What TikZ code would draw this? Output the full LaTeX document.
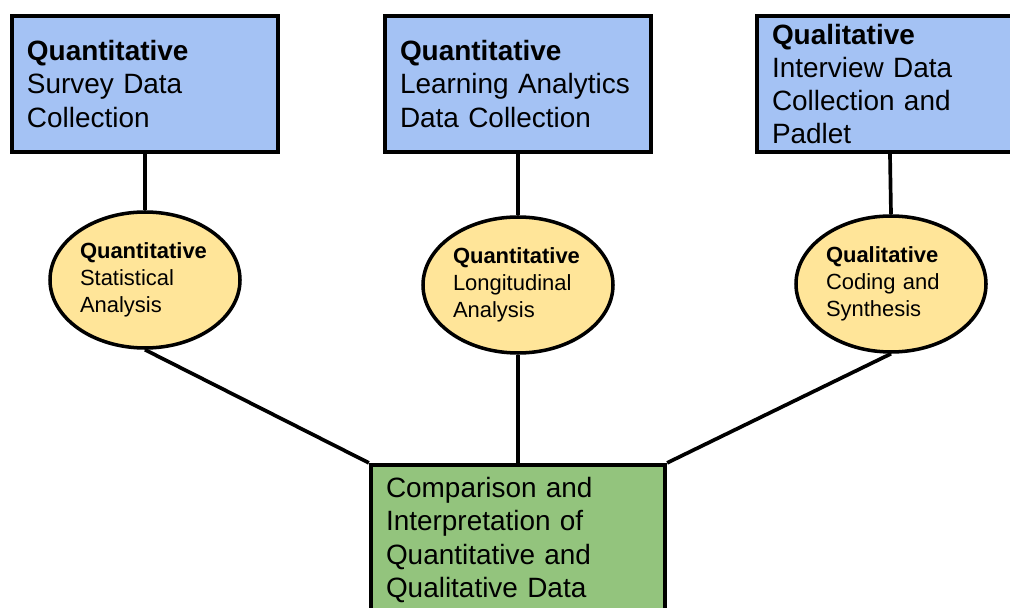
\documentclass[tikz,border=0pt]{standalone}
\usepackage{fontspec}
\setmainfont{Liberation Sans}
\usetikzlibrary{shapes.geometric}

\definecolor{boxblue}{HTML}{A4C2F4}
\definecolor{ovalyellow}{HTML}{FFE599}
\definecolor{resultgreen}{HTML}{93C47D}

\begin{document}
\begin{tikzpicture}[
    collectbox/.style = {draw=black, line width=2.4pt, fill=boxblue, rectangle,
      minimum width=5.32cm, minimum height=2.72cm, inner xsep=0.3cm, inner ysep=0pt,
      text width=4.72cm, align=left, font=\fontsize{15.9}{18.8}\selectfont},
    analysisoval/.style = {draw=black, line width=2pt, fill=ovalyellow, ellipse,
      minimum width=3.8cm, minimum height=2.72cm, inner sep=0pt,
      text width=2.6cm, align=left, font=\fontsize{12.5}{15.3}\selectfont},
    mergebox/.style = {draw=black, line width=2.4pt, fill=resultgreen, rectangle,
      minimum width=5.88cm, minimum height=3cm, inner xsep=0.3cm, inner ysep=0pt,
      text width=5.28cm, align=left, font=\fontsize{15.9}{18.8}\selectfont},
    link/.style = {draw=black, line width=2.1pt}
  ]
  \useasboundingbox (0,0) rectangle (20.2,-12.16);

  \node[collectbox] at (2.9,-1.68)   (survey)    {\textbf{Quantitative}\\Survey Data\\Collection};
  \node[collectbox] at (10.36,-1.68) (analytics) {\textbf{Quantitative}\\Learning Analytics\\Data Collection};
  \node[collectbox] at (17.8,-1.68)  (interview) {\textbf{Qualitative}\\Interview Data\\Collection and\\Padlet};

  \node[analysisoval] at (2.9,-5.6)   (statistical)  {\textbf{Quantitative}\\Statistical\\Analysis};
  \node[analysisoval] at (10.36,-5.7) (longitudinal) {\textbf{Quantitative}\\Longitudinal\\Analysis};
  \node[analysisoval] at (17.82,-5.68) (coding)      {\textbf{Qualitative}\\Coding and\\Synthesis};

  \node[mergebox] at (10.36,-10.8) (comparison) {Comparison and\\Interpretation of\\Quantitative and\\Qualitative Data};

  \draw[link] (survey.south)    -- (statistical.north);
  \draw[link] (analytics.south) -- (longitudinal.north);
  \draw[link] (interview.south) -- (coding.north);
  \draw[link] (statistical.south)  -- (comparison.north west);
  \draw[link] (longitudinal.south) -- (comparison.north);
  \draw[link] (coding.south)       -- (comparison.north east);

\end{tikzpicture}
\end{document}
